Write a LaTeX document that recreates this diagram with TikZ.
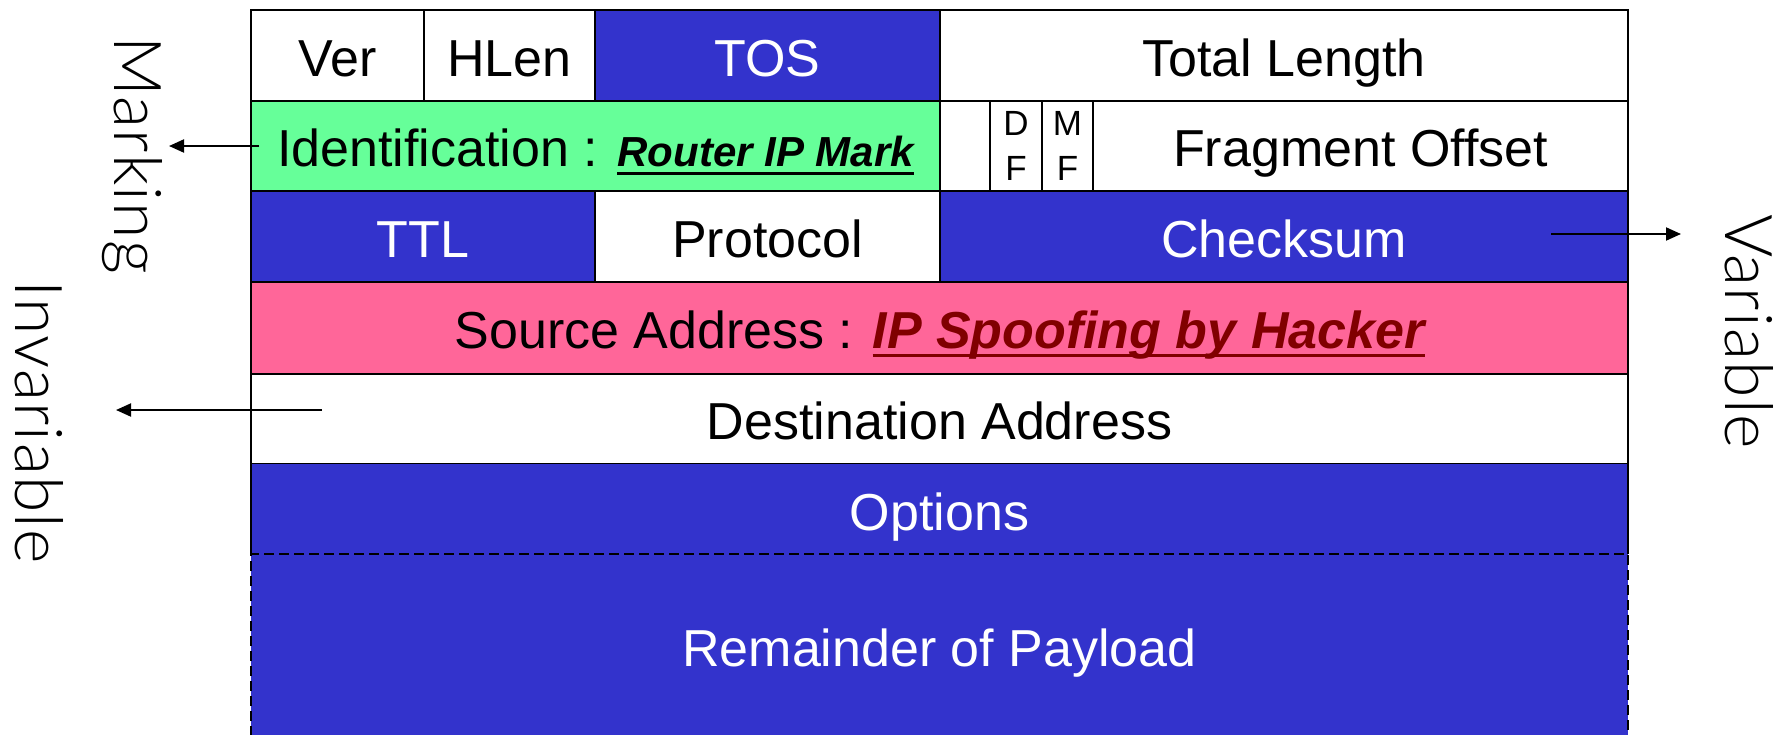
\documentclass[tikz,border=0pt]{standalone}
\usepackage{fontspec}
\setmainfont{Liberation Sans}
\newfontfamily\sidefont[LetterSpace=2]{Lato Light}
\usetikzlibrary{arrows.meta}
\definecolor{ipblue}{RGB}{51,51,204}
\definecolor{ipgreen}{RGB}{102,255,153}
\definecolor{ippink}{RGB}{255,102,153}
\definecolor{ipred}{RGB}{128,0,0}
\newcommand\ulbox[1]{\setbox0=\hbox{#1}\rlap{\copy0}\rule[-8pt]{\wd0}{3pt}}
\tikzset{
  cell/.style={draw=black, line width=2pt, rectangle, inner sep=0pt, outer sep=0pt,
    font=\fontsize{52}{60}\selectfont, text height=42pt, text depth=0pt},
  bluecell/.style={cell, fill=ipblue, text=white},
  bitcell/.style={draw=black, line width=2pt, rectangle, inner sep=0pt, outer sep=0pt,
    font=\fontsize{35}{45}\selectfont, align=center},
  sidelabel/.style={font=\sidefont\fontsize{66}{72}\selectfont, rotate=-90, anchor=base west, inner sep=0pt},
  pointer/.style={line width=2pt, -{Triangle[length=15pt,width=13pt]}},
  dashedge/.style={line width=2pt, dash pattern=on 10pt off 5pt}
}
\begin{document}
\begin{tikzpicture}[x=1pt,y=-1pt]
\useasboundingbox (0,0) rectangle (1791,734);
\fill[white] (0,0) rectangle (1791,734);
% row 1
\node[cell, minimum width=173pt, minimum height=90.5pt] (ver) at (337.5,55.25) {Ver};
\node[cell, minimum width=171pt, minimum height=90.5pt] (hlen) at (509.5,55.25) {HLen};
\node[bluecell, minimum width=345pt, minimum height=90.5pt] (tos) at (767.5,55.25) {TOS};
\node[cell, minimum width=688pt, minimum height=90.5pt] (total) at (1284,55.25) {Total Length};
% row 2
\node[cell, fill=ipgreen, minimum width=689pt, minimum height=90.5pt] (ident) at (595.5,145.75)
  {Identification : \ulbox{\fontsize{42}{50}\selectfont\bfseries\itshape Router IP Mark}};
\node[cell, minimum width=50pt, minimum height=90.5pt] (blank) at (965,145.75) {};
\node[bitcell, minimum width=52pt, minimum height=90.5pt] (df) at (1016,145.75) {D\\F};
\node[bitcell, minimum width=51pt, minimum height=90.5pt] (mf) at (1067.5,145.75) {M\\F};
\node[cell, minimum width=535pt, minimum height=90.5pt] (frag) at (1360.5,145.75) {Fragment Offset};
% row 3
\node[bluecell, minimum width=344pt, minimum height=91pt] (ttl) at (423,236.5) {TTL};
\node[cell, minimum width=345pt, minimum height=91pt] (proto) at (767.5,236.5) {Protocol};
\node[bluecell, minimum width=688pt, minimum height=91pt] (csum) at (1284,236.5) {Checksum};
% row 4-5
\node[cell, fill=ippink, minimum width=1377pt, minimum height=91.5pt] (src) at (939.5,327.75)
  {Source Address : {\color{ipred}\ulbox{\bfseries\itshape IP Spoofing by Hacker}}};
\node[cell, minimum width=1377pt, minimum height=90.5pt] (dst) at (939.5,418.75) {Destination Address};
% options and payload
\node[bluecell, draw=none, minimum width=1377pt, minimum height=90pt] (opt) at (939.5,509) {Options};
\node[bluecell, draw=none, minimum width=1377pt, minimum height=182pt] (rem) at (939.5,645) {Remainder of Payload};
\draw[line width=2pt] (opt.north west) -- (opt.south west);
\draw[line width=2pt] (opt.north east) -- (opt.south east);
\draw[dashedge] (rem.south west) -- (rem.north west) -- (rem.north east) -- (rem.south east);
% side labels
\node[sidelabel] (marking) at (114,36) {Marking};
\node[sidelabel] (invariable) at (16,280) {Invariable};
\node[sidelabel] (variable) at (1725,214) {Variable};
% arrows
\coordinate (markstart) at (259,146);
\coordinate (marktip) at (169,146);
\coordinate (invstart) at (322,410);
\coordinate (invtip) at (116,410);
\coordinate (varstart) at (1551,234);
\coordinate (vartip) at (1681,234);
\draw[pointer] (markstart) -- (marktip);
\draw[pointer] (invstart) -- (invtip);
\draw[pointer] (varstart) -- (vartip);
\end{tikzpicture}
\end{document}
